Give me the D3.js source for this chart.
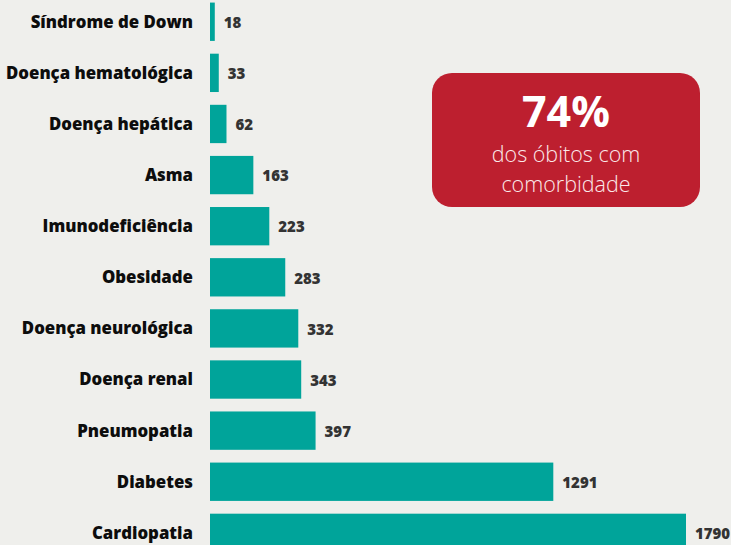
<!doctype html>
<html>
<head>
<meta charset="utf-8">
<style>
    body { margin: 0; background: #efefec; }
    svg { display: block; }
    text.cat { font-family: 'Open Sans', sans-serif; font-weight: 800; font-size: 16.8px; fill: #0d0d0d; }
    text.value { font-family: 'Open Sans', sans-serif; font-weight: 800; font-size: 15px; fill: #333; }
    .bar { fill: #00a49a; }
</style>
<script src="https://d3js.org/d3.v7.min.js"></script>
</head>
<body>
<svg width="731" height="545"></svg>
<script>
const categories = ['Síndrome de Down', 'Doença hematológica', 'Doença hepática', 'Asma',
    'Imunodeficiência', 'Obesidade', 'Doença neurológica', 'Doença renal',
    'Pneumopatia', 'Diabetes', 'Cardiopatia'];
const values = [18, 33, 62, 163, 223, 283, 332, 343, 397, 1291, 1790];
const highlight = ['74%', 'dos óbitos com', 'comorbidade'];

const svg = d3.select('svg');
const left = 210;

const x = d3.scaleLinear().domain([0, 1790]).range([left, 686]);
const y = d3.scaleBand().domain(categories).range([-1, 555.6]).paddingInner(0.25).paddingOuter(0.07);

const data = categories.map((c, i) => ({ cat: c, v: values[i] }));

svg.selectAll('rect.bar')
    .data(data)
    .enter()
    .append('rect')
    .attr('class', 'bar')
    .attr('x', x(0))
    .attr('y', d => y(d.cat))
    .attr('width', d => x(d.v) - x(0))
    .attr('height', y.bandwidth());

svg.selectAll('text.cat')
    .data(data)
    .enter()
    .append('text')
    .attr('class', 'cat')
    .attr('x', left - 17)
    .attr('y', d => y(d.cat) + y.bandwidth() / 2)
    .attr('dy', '0.35em')
    .attr('text-anchor', 'end')
    .text(d => d.cat);

svg.selectAll('text.value')
    .data(data)
    .enter()
    .append('text')
    .attr('class', 'value')
    .attr('x', d => x(d.v) + 9)
    .attr('y', d => y(d.cat) + y.bandwidth() / 2 + 1)
    .attr('dy', '0.35em')
    .text(d => d.v);

// red callout box
const box = svg.append('g').attr('transform', 'translate(432, 73)');
box.append('rect')
    .attr('width', 268)
    .attr('height', 134)
    .attr('rx', 20)
    .attr('fill', '#bd1f2f');
box.append('text')
    .attr('x', 134).attr('y', 54)
    .attr('text-anchor', 'middle')
    .attr('fill', '#fff')
    .style('font-family', "'Open Sans', sans-serif")
    .style('font-weight', 700)
    .style('font-size', '43px')
    .text(highlight[0]);
box.append('text')
    .attr('x', 134).attr('y', 89)
    .attr('text-anchor', 'middle')
    .attr('fill', '#fbe9ea')
    .style('font-family', "'Open Sans', sans-serif")
    .style('font-weight', 300)
    .style('font-size', '21.5px')
    .text(highlight[1]);
box.append('text')
    .attr('x', 134).attr('y', 119)
    .attr('text-anchor', 'middle')
    .attr('fill', '#fbe9ea')
    .style('font-family', "'Open Sans', sans-serif")
    .style('font-weight', 300)
    .style('font-size', '21.5px')
    .text(highlight[2]);
</script>
</body>
</html>
